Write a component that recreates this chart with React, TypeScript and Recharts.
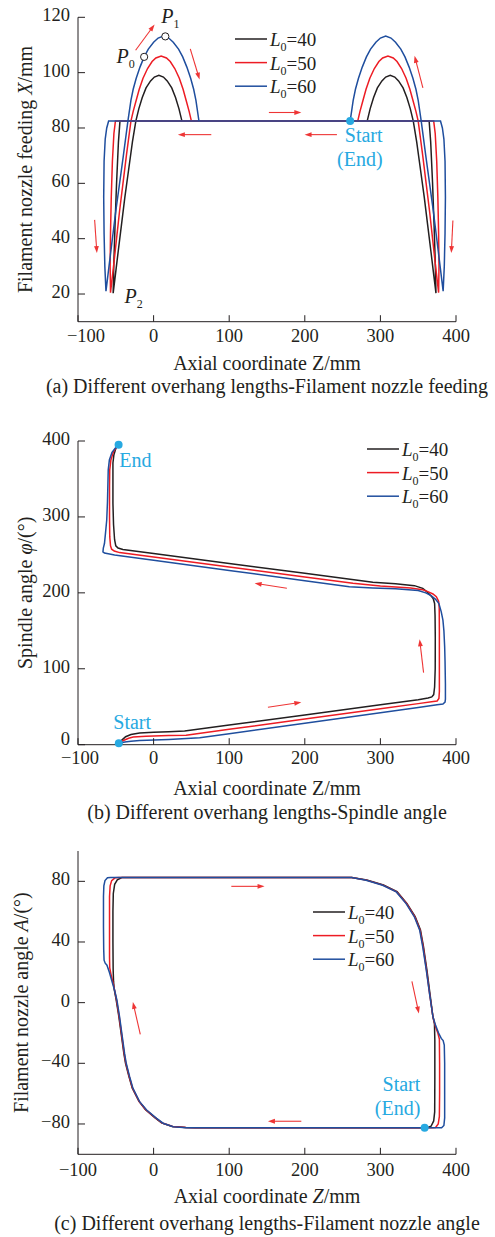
import React from 'react';
import { LineChart, Line, XAxis, YAxis, ReferenceLine, ReferenceDot, Legend } from 'recharts';

const FONT = '"Liberation Serif", "Times New Roman", Times, serif';
const INK = '#231f20';
const SERIES_COLORS = ['#231f20', '#ed1c24', '#1f4e9e'];
const CYAN = '#27a9e1';
const ARROW = '#ee3535';

const overhangLengths = [40, 50, 60];
const zTicks = [-100, 0, 100, 200, 300, 400];
const feedTicks = [20, 40, 60, 80, 100, 120];
const phiTicks = [0, 100, 200, 300, 400];
const angleTicks = [-80, -40, 0, 40, 80];

// ---------- (a) filament nozzle feeding X vs Z ----------
const feed40Z = [282.5, -44.5, -46.5, -49, -51, -52.5, -53.5, -50.5, -47, -42.5, -38, -33, -28, -23.5, -19.5, -15, -10, -4, 1, 7, 13, 18, 24, 29, 33.5, 37.5, 364.5, 366.5, 369, 371, 372.5, 373.5, 370.5, 367, 362.5, 358, 353, 348, 343.5, 339.5, 335, 330, 324, 319, 313, 307, 302, 296, 291, 286.5, 282.5];
const feed40X = [82.5, 82.5, 75, 60, 45, 32, 20.3, 27, 35, 45, 55, 65, 75, 82.5, 87, 91, 94.5, 97, 98.4, 99, 98.4, 97, 94.5, 91, 87, 82.5, 82.5, 75, 60, 45, 32, 20.3, 27, 35, 45, 55, 65, 75, 82.5, 87, 91, 94.5, 97, 98.4, 99, 98.4, 97, 94.5, 91, 87, 82.5];
const feed50Z = [270, -50.5, -52.5, -54.5, -56, -57, -57.5, -57, -53, -49, -45, -40.5, -36, -30, -27, -23, -19, -14, -8, -2, 3, 10, 17, 22, 28, 34, 39, 43, 47, 50, 370.5, 372.5, 374.5, 376, 377, 377.5, 377, 373, 369, 365, 360.5, 356, 350, 347, 343, 339, 334, 328, 322, 317, 310, 303, 298, 292, 286, 281, 277, 273, 270];
const feed50X = [82.5, 82.5, 78, 68, 55, 42, 30, 20.5, 30, 40, 50, 60, 70, 82.5, 86, 90, 94, 98, 101.5, 104, 105.3, 106, 105.3, 104, 101.5, 98, 94, 90, 86, 82.5, 82.5, 78, 68, 55, 42, 30, 20.5, 30, 40, 50, 60, 70, 82.5, 86, 90, 94, 98, 101.5, 104, 105.3, 106, 105.3, 104, 101.5, 98, 94, 90, 86, 82.5];
const feed60Z = [260, -59.5, -62, -64, -65.5, -66, -65.5, -64.5, -63, -59, -54.5, -50, -45, -40, -34, -30, -27, -23, -18, -12.5, -7, 0, 6, 13, 20, 26, 33, 38.5, 44, 49, 53, 56, 60, 379.5, 382, 384, 385.5, 386, 385.5, 384.5, 383, 379, 374.5, 370, 365, 360, 354, 350, 347, 343, 338, 332.5, 327, 320, 314, 307, 300, 294, 287, 281.5, 276, 271, 267, 264, 260];
const feed60X = [82.5, 82.5, 80, 76, 68, 55, 42, 30, 21, 30, 40, 50, 60, 70, 82.5, 90, 94, 98, 102, 105.7, 108.5, 111, 112.5, 113.2, 112.5, 111, 108.5, 105.7, 102, 98, 94, 90, 82.5, 82.5, 80, 76, 68, 55, 42, 30, 21, 30, 40, 50, 60, 70, 82.5, 90, 94, 98, 102, 105.7, 108.5, 111, 112.5, 113.2, 112.5, 111, 108.5, 105.7, 102, 98, 94, 90, 82.5];
const feedPointZ = [-12.5, 15.5]; // P0, P1
const feedPointX = [105.7, 113.1];
const feedP2 = [-53.5, 20.3];
const feedStart = [260, 82.5];
const feedArrows = [
  [-23.8, 108.1, 1.3, 117.4],
  [48.5, 108.6, 60.8, 97.5],
  [76.3, 77.6, 32.1, 77.6],
  [152.5, 85.6, 195.4, 85.6],
  [242.5, 77.6, 199.7, 77.6],
  [356.2, 94.5, 345.2, 106.1],
  [-78, 46.8, -75, 34.8],
  [395.9, 46.6, 393.8, 34.8],
];

// ---------- (b) spindle angle phi vs Z ----------
const spin40Z = [-46, -42, -37, -30, -18.5, 0, 20, 41, 100, 200, 300, 350, 363, 368, 370.5, 371.7, 372.5, 372.6, 372.3, 371.7, 370, 367, 362, 356, 345, 320, 290, 275, 200, 100, 0, -40.6, -47, -50, -51.6, -53, -53.8, -53.8, -53.8, -52.5, -50, -46.3];
const spin40P = [2, 6, 10.5, 13.5, 15.5, 16.5, 17.2, 18, 25.9, 39.2, 52.6, 59.3, 61.5, 63, 66, 76, 100, 142, 170, 186, 192, 196, 201, 206, 209.5, 212, 214, 216, 225.7, 238.7, 251.7, 257, 259, 262, 270, 290, 318, 350, 371, 382, 390, 395];
const spin50Z = [-46, -40, -33, -27, -10, 20, 43, 100, 200, 300, 350, 370, 375, 377.4, 378, 378, 378, 377.8, 377, 374, 369.5, 362, 356, 340, 300, 263.7, 200, 100, 0, -45, -52, -55.5, -57, -58, -58.3, -58.3, -58, -56.5, -53, -48, -46.3];
const spin50P = [2, 5.5, 8.5, 10, 11, 12, 12.5, 20.2, 33.8, 47.3, 54.1, 56.8, 57.5, 61, 70, 100, 150, 180, 189, 195, 198.5, 202, 204, 206.5, 209, 212.6, 220.9, 234, 247.1, 253, 255, 257.5, 262, 274, 300, 340, 362, 375, 386, 393, 395];
const spin60Z = [-46, -38, -30, -18.5, 20, 61, 100, 200, 300, 350, 375, 382.7, 385.5, 386, 386, 385.5, 385, 384, 382.7, 380.5, 377.4, 373, 367, 360, 350, 320, 290, 259, 200, 100, 0, -51.6, -60, -65, -67, -66.5, -65, -63.5, -62, -61, -60, -58.5, -55, -50, -46.3];
const spin60P = [2, 3.5, 4.5, 5.5, 7, 9, 14.4, 28.3, 42.1, 49, 52.5, 53.6, 56, 60, 80, 110, 129, 150, 164, 175, 186, 191.5, 196.5, 200, 203, 205.5, 206.5, 208, 216, 229.5, 243, 250, 251.5, 252.5, 254, 259, 265, 280, 296, 320, 362, 375, 385, 391.5, 395];
const spinStart = [-46, 2];
const spinEnd = [-46.3, 395];
const spinArrows = [
  [176.3, 206, 133.6, 212.6],
  [151.2, 49.3, 195.4, 55.9],
  [357.1, 94.9, 351.9, 138.9],
];

// ---------- (c) filament nozzle angle A vs Z ----------
const ang40Z = [358.5, 200, 100, 55, 42, 24.5, 10.5, 2, -11, -19.5, -28.3, -32.7, -37.2, -39.4, -42.4, -46, -49.5, -52, -53, -53.5, -53.8, -53.8, -53.3, -51.5, -48, -42, 0, 100, 200, 262, 282, 304, 322, 335, 346, 353, 357, 361.5, 365.5, 369.5, 371.5, 372, 372, 371.8, 370.5, 367, 362, 358.5];
const ang40A = [-82.5, -82.5, -82.5, -82.5, -82.3, -81.6, -79.3, -76, -70.5, -65, -56.3, -48.6, -39.8, -33.3, -22.3, -9.1, 1.8, 8.5, 14, 22, 40, 60, 72, 78, 81, 82.5, 82.5, 82.5, 82.5, 82.5, 80.9, 77.6, 73.2, 65.5, 56.7, 47.9, 37, 21.6, 6.2, -9.3, -14, -25, -50, -72, -78, -81.5, -82.5, -82.5];
const ang50Z = [358.5, 200, 100, 55, 43, 25.3, 11.5, 3, -10, -19, -27.8, -32.2, -36.7, -38.9, -41.9, -45.5, -49, -51.6, -54, -56.5, -58, -58.3, -58.3, -58.3, -57.5, -55.5, -51, -46, 0, 100, 200, 262, 281.5, 303.5, 321.5, 334.5, 345.5, 352.5, 356.5, 361, 365, 369.5, 373, 376, 378, 378.3, 378.3, 378, 376.5, 373, 368, 358.5];
const ang50A = [-82.5, -82.5, -82.5, -82.5, -82.4, -81.7, -79.4, -76.2, -70.7, -65.2, -56.4, -48.7, -39.9, -33.4, -22.4, -9.2, 1.6, 8.2, 14, 19, 23, 30, 50, 70, 77, 80.5, 82.3, 82.5, 82.5, 82.5, 82.5, 82.5, 80.8, 77.5, 73.1, 65.4, 56.6, 47.8, 36.9, 21.5, 6.1, -9.3, -16, -20, -24, -40, -60, -75, -80, -82.3, -82.5, -82.5];
const ang60Z = [358.5, 200, 100, 55, 43.5, 26, 12.5, 4, -9.2, -18.5, -27.3, -31.7, -36.2, -38.4, -41.4, -45, -48.5, -51.6, -55, -58.5, -61.7, -64, -65.5, -66, -66.3, -66.3, -65.8, -64.3, -61, -57, 0, 100, 200, 262, 281, 303, 321, 334, 345, 352, 356, 360.7, 365, 369.5, 373, 377, 380.5, 383, 384.5, 385, 385, 385, 384, 381, 358.5];
const ang60A = [-82.5, -82.5, -82.5, -82.5, -82.5, -81.8, -79.5, -76.3, -70.8, -65.3, -56.5, -48.8, -40, -33.5, -22.5, -9.3, 1.6, 8.2, 14, 20, 24.7, 26, 28, 35, 50, 70, 77, 80.5, 82.3, 82.5, 82.5, 82.5, 82.5, 82.5, 80.7, 77.4, 73, 65.3, 56.5, 47.7, 36.8, 21.4, 6, -9.3, -15, -20, -23.6, -25, -28, -40, -60, -76, -81, -82.5, -82.5];
const angStart = [358.5, -82.5];
const angArrows = [
  [102.8, 76.7, 146.8, 76.7],
  [-17.6, -21, -27.4, 0.5],
  [341.7, 14.1, 350.9, -7.2],
  [195.4, -78.2, 151.2, -78.2],
];

const pts = (zs: number[], vs: number[]) => zs.map((z, i) => ({ z, v: vs[i] }));
const feedSeries = [pts(feed40Z, feed40X), pts(feed50Z, feed50X), pts(feed60Z, feed60X)];
const spinSeries = [pts(spin40Z, spin40P), pts(spin50Z, spin50P), pts(spin60Z, spin60P)];
const angSeries = [pts(ang40Z, ang40A), pts(ang50Z, ang50A), pts(ang60Z, ang60A)];

const fmt = (v: number) => (v < 0 ? `\u2212${Math.abs(v)}` : `${v}`);

const makeXTick = (firstShift: number, labelOffset: number) => (props: any) => {
  const { x, y, payload } = props;
  const shift = payload.value === -100 ? firstShift : 0;
  return (
    <g>
      <line x1={x} y1={y} x2={x} y2={y - 6.5} stroke={INK} strokeWidth={1} />
      <text x={x + shift} y={y + labelOffset} textAnchor="middle" fontFamily={FONT} fontSize={18.5} fill={INK}>
        {fmt(payload.value)}
      </text>
    </g>
  );
};

const makeYTick = (bottomValue: number | null, bottomDy: number) => (props: any) => {
  const { x, y, payload } = props;
  const dy = payload.value === bottomValue ? bottomDy : 4;
  return (
    <g>
      <line x1={x} y1={y} x2={x + 7} y2={y} stroke={INK} strokeWidth={1} />
      <text x={x - 8} y={y + dy} textAnchor="end" fontFamily={FONT} fontSize={18.5} fill={INK}>
        {fmt(payload.value)}
      </text>
    </g>
  );
};

const makeXTitle = (caption: string, titleOffset: number, captionOffset: number, italicZ: boolean) => (p: any) => {
  const vb = p && p.viewBox ? p.viewBox : { x: 78, y: 0, width: 378 };
  const cx = vb.x + vb.width / 2;
  return (
    <g>
      <text x={cx} y={vb.y + titleOffset} textAnchor="middle" fontFamily={FONT} fontSize={20} fill={INK}>
        Axial coordinate <tspan fontStyle={italicZ ? 'italic' : 'normal'}>Z</tspan>/mm
      </text>
      <text x={cx} y={vb.y + captionOffset} textAnchor="middle" fontFamily={FONT} fontSize={20} fill={INK}>
        {caption}
      </text>
    </g>
  );
};

const makeYTitle = (before: string, variable: string, after: string, bx: number) => (p: any) => {
  const vb = p && p.viewBox ? p.viewBox : { y: 0, height: 300 };
  const cy = vb.y + vb.height / 2;
  return (
    <text x={bx} y={cy} transform={`rotate(-90 ${bx} ${cy})`} textAnchor="middle" fontFamily={FONT} fontSize={20} fill={INK}>
      {before}
      <tspan fontStyle="italic">{variable}</tspan>
      {after}
    </text>
  );
};

const renderLegend = () => (
  <svg width={100} height={76} style={{ overflow: 'visible', display: 'block' }}>
    {overhangLengths.map((L, i) => {
      const cy = 12 + i * 23.6;
      return (
        <g key={L}>
          <line x1={0} y1={cy} x2={32} y2={cy} stroke={SERIES_COLORS[i]} strokeWidth={1.5} />
          <text x={35} y={cy + 7} fontFamily={FONT} fontSize={19} fill={INK}>
            <tspan fontStyle="italic">L</tspan>
            <tspan fontSize={12} dy={5}>0</tspan>
            <tspan dy={-5}>={L}</tspan>
          </text>
        </g>
      );
    })}
  </svg>
);

const arrowShape = (p: any) => {
  const { x1, y1, x2, y2 } = p;
  const dx = x2 - x1;
  const dy = y2 - y1;
  const len = Math.hypot(dx, dy) || 1;
  const ux = dx / len;
  const uy = dy / len;
  const hl = 7;
  const hw = 2.4;
  const bx = x2 - ux * hl;
  const by = y2 - uy * hl;
  return (
    <g>
      <line x1={x1} y1={y1} x2={bx + ux * 2} y2={by + uy * 2} stroke={ARROW} strokeWidth={1.1} />
      <polygon points={`${x2},${y2} ${bx - uy * hw},${by + ux * hw} ${bx + uy * hw},${by - ux * hw}`} fill={ARROW} />
    </g>
  );
};

const renderArrows = (list: number[][], prefix: string) =>
  list.map((a, i) => (
    <ReferenceLine
      key={`${prefix}${i}`}
      segment={[{ x: a[0], y: a[1] }, { x: a[2], y: a[3] }]}
      stroke={ARROW}
      shape={arrowShape}
    />
  ));

const renderLines = (series: { z: number; v: number }[][]) =>
  series.map((d, i) => (
    <Line
      key={i}
      data={d}
      dataKey="v"
      name={`L0=${overhangLengths[i]}`}
      type="linear"
      stroke={SERIES_COLORS[i]}
      strokeWidth={1.5}
      dot={false}
      activeDot={false}
      isAnimationActive={false}
    />
  ));

const pLabel = (sub: string, dx: number, dy: number, anchor: string, open: boolean) => (p: any) => (
  <g>
    {open ? <circle cx={p.cx} cy={p.cy} r={3.6} fill="#fff" stroke={INK} strokeWidth={1} /> : null}
    <text x={p.cx + dx} y={p.cy + dy} textAnchor={anchor} fontFamily={FONT} fontSize={20} fill={INK}>
      <tspan fontStyle="italic">P</tspan>
      <tspan fontSize={12} dy={5}>{sub}</tspan>
    </text>
  </g>
);

const cyanDot = (lines: { t: string; dx: number; dy: number; anchor: string }[]) => (p: any) => (
  <g>
    <circle cx={p.cx} cy={p.cy} r={4} fill={CYAN} />
    {lines.map((l, i) => (
      <text key={i} x={p.cx + l.dx} y={p.cy + l.dy} textAnchor={l.anchor} fontFamily={FONT} fontSize={20} fill={CYAN}>
        {l.t}
      </text>
    ))}
  </g>
);

const legendProps = {
  layout: 'vertical' as const,
  align: 'center' as const,
  verticalAlign: 'middle' as const,
  content: renderLegend,
};

export default function App() {
  return (
    <div style={{ position: 'absolute', left: 0, top: 0, width: 495, height: 1237, background: '#fff', overflow: 'hidden' }}>
      {/* (a) */}
      <div style={{ position: 'absolute', left: 0, top: 0 }}>
        <LineChart width={495} height={400} margin={{ top: 17.3, right: 39, bottom: 0, left: 8 }}>
          <XAxis
            type="number"
            dataKey="z"
            domain={[-100, 400]}
            ticks={zTicks}
            interval={0}
            allowDataOverflow
            tickLine={false}
            tickSize={0}
            tickMargin={0}
            tick={makeXTick(8, 20)}
            axisLine={{ stroke: INK, strokeWidth: 1 }}
            height={78.3}
            label={makeXTitle('(a) Different overhang lengths-Filament nozzle feeding', 48.3, 71.3, false)}
          />
          <YAxis
            type="number"
            domain={[10, 120]}
            ticks={feedTicks}
            interval={0}
            allowDataOverflow
            tickLine={false}
            tickSize={0}
            tickMargin={0}
            tick={makeYTick(null, 4)}
            axisLine={{ stroke: INK, strokeWidth: 1 }}
            width={70}
            label={makeYTitle('Filament nozzle feeding ', 'X', '/mm', 32)}
          />
          <Legend {...legendProps} wrapperStyle={{ left: 235, top: 27.3, width: 100, height: 76 }} />
          {renderArrows(feedArrows, 'fa')}
          {renderLines(feedSeries)}
          <ReferenceDot x={feedPointZ[0]} y={feedPointX[0]} r={3.6} shape={pLabel('0', -9.5, 6, 'end', true)} />
          <ReferenceDot x={feedPointZ[1]} y={feedPointX[1]} r={3.6} shape={pLabel('1', -4, -13.5, 'start', true)} />
          <ReferenceDot x={feedP2[0]} y={feedP2[1]} r={1} shape={pLabel('2', 11.4, 10, 'start', false)} />
          <ReferenceDot
            x={feedStart[0]}
            y={feedStart[1]}
            r={4}
            shape={cyanDot([
              { t: 'Start', dx: 32.4, dy: 21.2, anchor: 'end' },
              { t: '(End)', dx: 32.4, dy: 45, anchor: 'end' },
            ])}
          />
        </LineChart>
      </div>

      {/* (b) */}
      <div style={{ position: 'absolute', left: 0, top: 400 }}>
        <LineChart width={495} height={425} margin={{ top: 41, right: 39, bottom: 0, left: 8 }}>
          <XAxis
            type="number"
            dataKey="z"
            domain={[-100, 400]}
            ticks={zTicks}
            interval={0}
            allowDataOverflow
            tickLine={false}
            tickSize={0}
            tickMargin={0}
            tick={makeXTick(2, 19.5)}
            axisLine={{ stroke: INK, strokeWidth: 1 }}
            height={80.3}
            label={makeXTitle('(b) Different overhang lengths-Spindle angle', 50, 74.3, false)}
          />
          <YAxis
            type="number"
            domain={[0, 400]}
            ticks={phiTicks}
            interval={0}
            allowDataOverflow
            tickLine={false}
            tickSize={0}
            tickMargin={0}
            tick={makeYTick(0, 0.5)}
            axisLine={{ stroke: INK, strokeWidth: 1 }}
            width={70}
            label={makeYTitle('Spindle angle ', '\u03c6', '/(\u00b0)', 32)}
          />
          <Legend {...legendProps} wrapperStyle={{ left: 366.7, top: 36.7, width: 100, height: 76 }} />
          {renderArrows(spinArrows, 'sa')}
          {renderLines(spinSeries)}
          <ReferenceDot x={spinStart[0]} y={spinStart[1]} r={4} shape={cyanDot([{ t: 'Start', dx: -5.5, dy: -14, anchor: 'start' }])} />
          <ReferenceDot x={spinEnd[0]} y={spinEnd[1]} r={4} shape={cyanDot([{ t: 'End', dx: 0.7, dy: 21.8, anchor: 'start' }])} />
        </LineChart>
      </div>

      {/* (c) */}
      <div style={{ position: 'absolute', left: 0, top: 825 }}>
        <LineChart width={495} height={412} margin={{ top: 26, right: 39, bottom: 0, left: 8 }}>
          <XAxis
            type="number"
            dataKey="z"
            domain={[-100, 400]}
            ticks={zTicks}
            interval={0}
            allowDataOverflow
            tickLine={false}
            tickSize={0}
            tickMargin={0}
            tick={makeXTick(0, 21.4)}
            axisLine={{ stroke: INK, strokeWidth: 1 }}
            height={82.7}
            label={makeXTitle('(c) Different overhang lengths-Filament nozzle angle', 48.7, 75.7, true)}
          />
          <YAxis
            type="number"
            domain={[-100, 100]}
            ticks={angleTicks}
            interval={0}
            allowDataOverflow
            tickLine={false}
            tickSize={0}
            tickMargin={0}
            tick={makeYTick(null, 4)}
            axisLine={{ stroke: INK, strokeWidth: 1 }}
            width={70}
            label={makeYTitle('Filament nozzle angle ', 'A', '/(\u00b0)', 28)}
          />
          <Legend {...legendProps} wrapperStyle={{ left: 313, top: 74.7, width: 100, height: 76 }} />
          {renderArrows(angArrows, 'aa')}
          {renderLines(angSeries)}
          <ReferenceDot
            x={angStart[0]}
            y={angStart[1]}
            r={4}
            shape={cyanDot([
              { t: 'Start', dx: -4.3, dy: -36.6, anchor: 'end' },
              { t: '(End)', dx: -4.3, dy: -12.6, anchor: 'end' },
            ])}
          />
        </LineChart>
      </div>
    </div>
  );
}
